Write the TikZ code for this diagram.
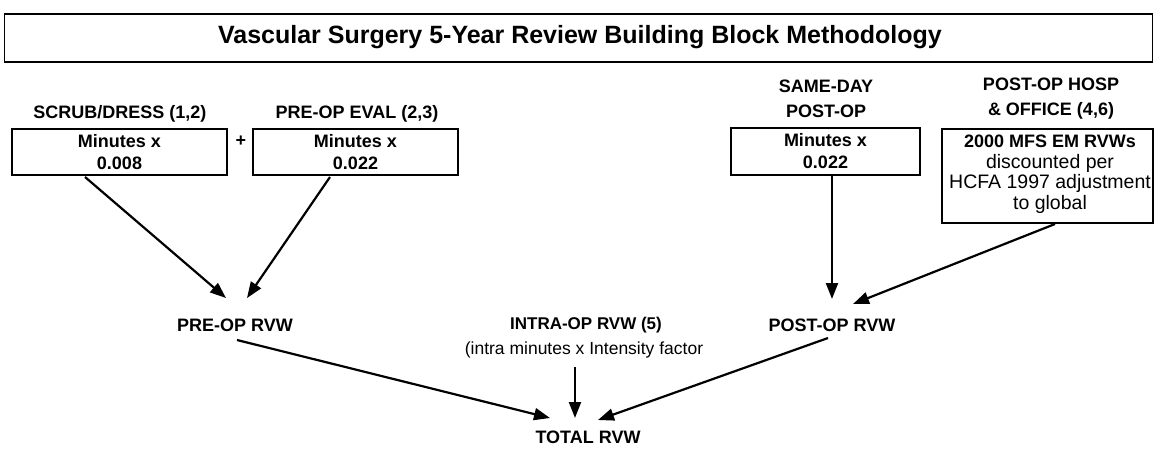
\documentclass[tikz,border=0pt]{standalone}
\usepackage{fontspec}
\setmainfont{Liberation Sans}
\usetikzlibrary{arrows.meta}
\begin{document}
\begin{tikzpicture}[x=1pt,y=-1pt,
  lab/.style={font=\bfseries\fontsize{18}{25}\selectfont, inner sep=0pt, align=center},
  boxx/.style={draw, line width=1.4pt, font=\bfseries\fontsize{18}{22}\selectfont, inner sep=0pt, align=center},
  arr/.style={line width=2.2pt, -{Triangle[length=16pt,width=12pt]}}]
\useasboundingbox (0,0) rectangle (1154,448);
% title
\node[draw, line width=1.4pt, minimum width=1148pt, minimum height=48pt, inner sep=0pt] (title) at (578.5,38) {};
\node[font=\bfseries\fontsize{25}{28}\selectfont, inner sep=0pt] (ttext) at (580,37) {Vascular Surgery 5-Year Review Building Block Methodology};
% top labels
\node[lab] (l1) at (120,114) {SCRUB/DRESS (1,2)};
\node[lab] (l2) at (357,114) {PRE-OP EVAL (2,3)};
\node[lab] (l3) at (826,99) {SAME-DAY\\POST-OP};
\node[lab] (l4) at (1051,99) {POST-OP HOSP\\\& OFFICE (4,6)};
% boxes
\node[boxx, minimum width=215pt, minimum height=46pt] (b1) at (119.5,152) {Minutes x\\0.008};
\node[font=\bfseries\fontsize{18}{20}\selectfont, inner sep=0pt] (plus) at (241,141) {+};
\node[boxx, minimum width=205pt, minimum height=46pt] (b2) at (355.5,152) {Minutes x\\0.022};
\node[boxx, minimum width=189pt, minimum height=47pt] (b3) at (825.5,151.5) {Minutes x\\0.022};
\node[draw, line width=1.4pt, minimum width=211pt, minimum height=94pt, inner sep=0pt] (b4) at (1047.5,176) {};
\node[font=\fontsize{19.5}{20.5}\selectfont, inner sep=0pt, align=center] (b4t) at (1050,174) {\textbf{\fontsize{18}{20.5}\selectfont 2000 MFS EM RVWs}\\discounted per\\HCFA 1997 adjustment\\to global};
% middle labels
\node[lab] (pre) at (235,325) {PRE-OP RVW};
\node[lab, font=\bfseries\fontsize{17}{20}\selectfont] (intra) at (586,325) {INTRA-OP RVW (5)};
\node[font=\fontsize{17.5}{20}\selectfont, inner sep=0pt] (intra2) at (584,350) {(intra minutes x Intensity factor};
\node[lab] (post) at (832,325) {POST-OP RVW};
\node[lab] (total) at (588,437) {TOTAL RVW};
% connector endpoints
\coordinate (a1s) at (85,177);
\coordinate (a1e) at (226,298);
\coordinate (a2s) at (330,177);
\coordinate (a2e) at (247,298);
\coordinate (a3s) at (832,176);
\coordinate (a3e) at (832,299);
\coordinate (a4s) at (1055,224);
\coordinate (a4e) at (853,304);
\coordinate (a5s) at (237,340);
\coordinate (a5e) at (550,418);
\coordinate (a6s) at (575,367);
\coordinate (a6e) at (575,418);
\coordinate (a7s) at (828,338);
\coordinate (a7e) at (598,420);
\draw[arr] (a1s) -- (a1e);
\draw[arr] (a2s) -- (a2e);
\draw[arr] (a3s) -- (a3e);
\draw[arr] (a4s) -- (a4e);
\draw[arr] (a5s) -- (a5e);
\draw[arr] (a6s) -- (a6e);
\draw[arr] (a7s) -- (a7e);
\end{tikzpicture}
\end{document}
